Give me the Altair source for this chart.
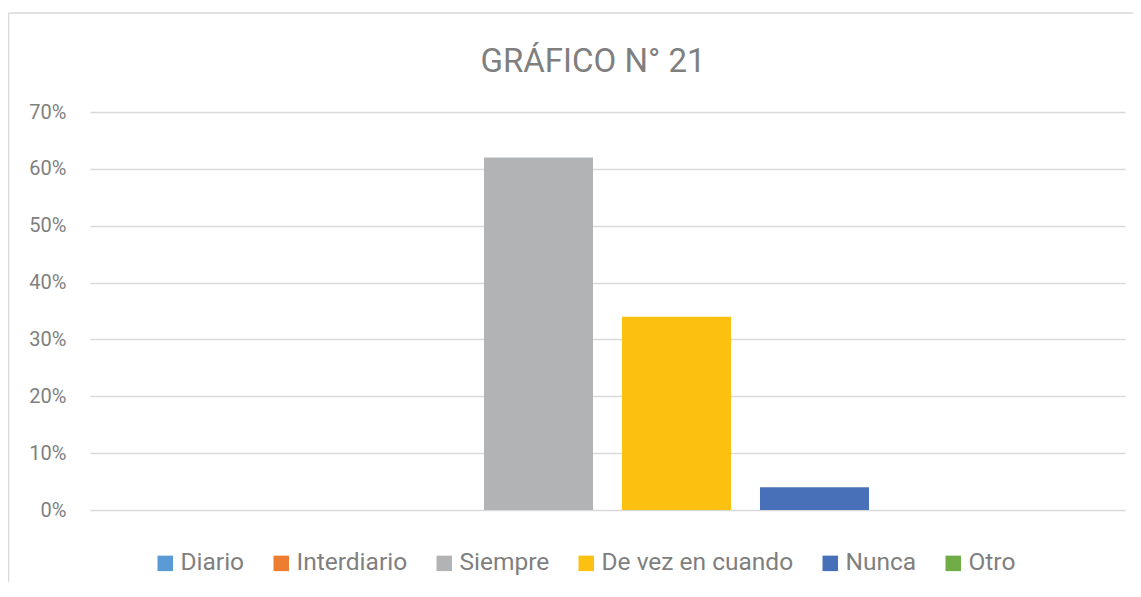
import altair as alt
import pandas as pd

series = ["Diario", "Interdiario", "Siempre", "De vez en cuando", "Nunca", "Otro"]
values = [0.0, 0.0, 0.62, 0.34, 0.04, 0.0]
colors = ["#5b9bd5", "#ed7d31", "#b2b3b5", "#fcc010", "#4870b8", "#70ad47"]
y_ticks = [0, 0.1, 0.2, 0.3, 0.4, 0.5, 0.6, 0.7]
title_text = "GRÁFICO N° 21"

df = pd.DataFrame({"serie": series, "valor": values})

W, H = 1035, 398
GRID = "#d9d9d9"
TXT = "#7f7f7f"

bars = alt.Chart(df).mark_bar().encode(
    x=alt.X("serie:N", sort=series, axis=None,
            scale=alt.Scale(paddingInner=0.21, paddingOuter=0.855)),
    y=alt.Y("valor:Q",
            scale=alt.Scale(domain=[0, 0.7], nice=False),
            axis=alt.Axis(values=y_ticks, format=".0%", title=None,
                          domain=False, ticks=False, tickSize=0,
                          labelPadding=24, labelFontSize=20,
                          labelColor=TXT, labelFont="Roboto",
                          grid=True, gridColor=GRID, gridWidth=1.3)),
    color=alt.Color("serie:N", sort=series,
                    scale=alt.Scale(domain=series, range=colors),
                    legend=alt.Legend(title=None, orient="none",
                                      direction="horizontal",
                                      legendX=63, legendY=439,
                                      symbolType="square", symbolSize=240,
                                      symbolStrokeWidth=0,
                                      labelFontSize=24.5, labelFont="Roboto",
                                      labelColor=TXT, labelOffset=3,
                                      columnPadding=24, labelLimit=400)),
)

frame_data = alt.Data(values=[{"k": 1}])
left_line = alt.Chart(frame_data).mark_rule(color=GRID, strokeWidth=1.5).encode(
    x=alt.value(-81.5), y=alt.value(-99), y2=alt.value(472))
top_line = alt.Chart(frame_data).mark_rule(color=GRID, strokeWidth=1.5).encode(
    x=alt.value(-81.5), x2=alt.value(1043), y=alt.value(-99))

title = alt.Chart(alt.Data(values=[{"t": title_text}])).mark_text(
    font="Roboto", fontSize=33, color=TXT, align="center",
    baseline="alphabetic").encode(
    text="t:N", x=alt.value(503), y=alt.value(-40))

chart = alt.layer(left_line, top_line, bars, title).properties(
    width=W, height=H,
    background="white",
    autosize=alt.AutoSizeParams(type="none"),
    padding={"left": 82, "top": 104, "right": 8, "bottom": 72},
).configure_view(strokeWidth=0, stroke=None)

chart.save("out.html", embed_options={"renderer": "svg", "actions": False})
